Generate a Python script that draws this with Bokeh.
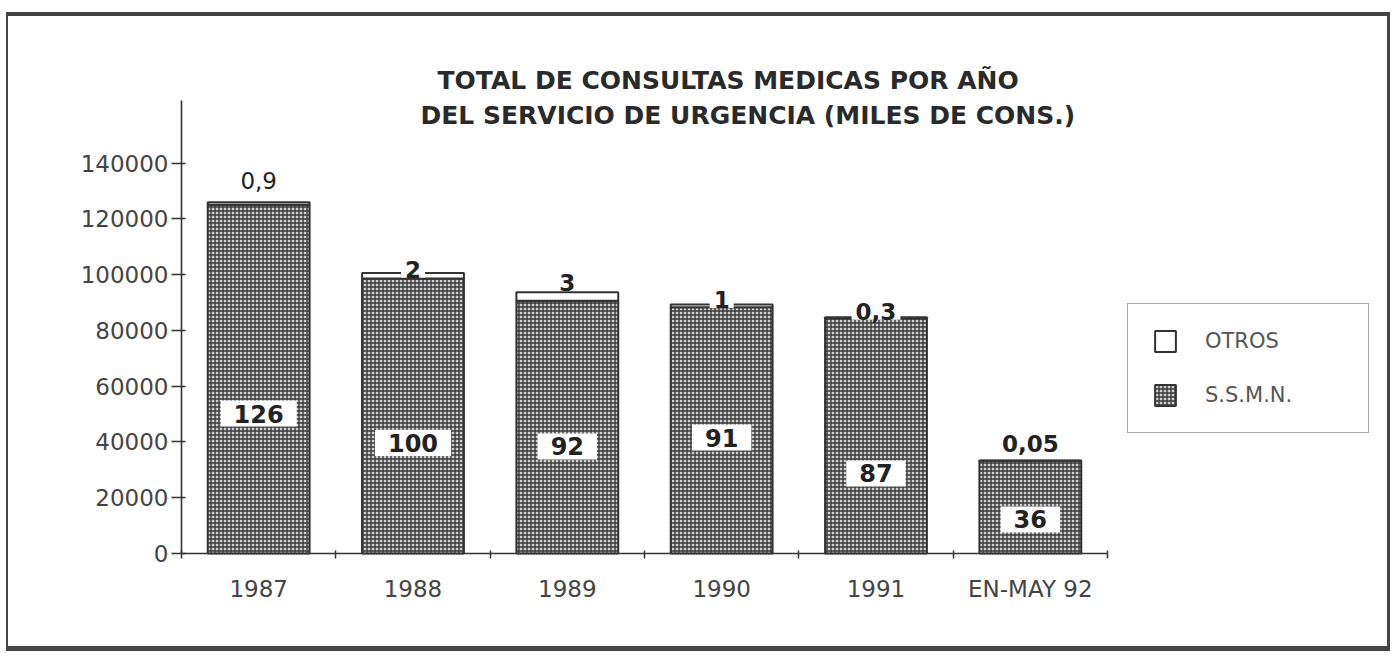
from bokeh.plotting import figure
from bokeh.models import (Range1d, FixedTicker, NumeralTickFormatter, Legend,
                          LegendItem, Label, ColumnDataSource)
from bokeh.embed import file_html
from bokeh.resources import INLINE
from bokeh.core.properties import value

# ---------------- data ----------------
categories = ["1987", "1988", "1989", "1990", "1991", "EN-MAY 92"]
ssmn = [125100, 98600, 90700, 88300, 84400, 33300]
otros = [900, 2000, 3000, 1000, 300, 50]
ssmn_labels = ["126", "100", "92", "91", "87", "36"]
otros_labels = ["0,9", "2", "3", "1", "0,3", "0,05"]
y_ticks = [0, 20000, 40000, 60000, 80000, 100000, 120000, 140000]
title_lines = ["TOTAL DE CONSULTAS MEDICAS POR AÑO",
               "DEL SERVICIO DE URGENCIA (MILES DE CONS.)"]
series_names = ["OTROS", "S.S.M.N."]

# ---------------- layout / style ----------------
ssmn_label_y = [50200, 39600, 38400, 41600, 28700, 12200]
otros_label_offset = [22, 4, 10, 5, 6, 17]
otros_label_style = ["normal", "bold", "bold", "bold", "bold", "bold"]
Y_AXIS_TOP = 162500

FONT = "DejaVu Sans"
INK = "#333333"
TXT = "#444444"

W, H = 1384, 639
MBL, MBB = 171, 100
PX_PER_CAT = 154.33      # px per category slot
PX_PER_UNIT = 0.0027879  # px per consultation
frame_w = W - MBL
frame_h = H - MBB
x0 = -2 / PX_PER_CAT
y0 = -2 / PX_PER_UNIT

n = len(categories)
xs = [i + 0.5 for i in range(n)]
totals = [a + b for a, b in zip(ssmn, otros)]

src = ColumnDataSource(dict(
    x=xs, ssmn=ssmn, total=totals, ssmn_lab=ssmn_labels, otros_lab=otros_labels,
    lab_y=ssmn_label_y, off=[-o for o in otros_label_offset],
    ostyle=otros_label_style,
))

p = figure(width=W, height=H, output_backend="svg", toolbar_location=None,
           title_location=None,
           x_range=Range1d(x0, x0 + frame_w / PX_PER_CAT),
           y_range=Range1d(y0, y0 + frame_h / PX_PER_UNIT),
           min_border_left=MBL, min_border_right=0,
           min_border_top=0, min_border_bottom=MBB)
p.outline_line_color = None
p.xgrid.grid_line_color = None
p.ygrid.grid_line_color = None
p.background_fill_color = "white"
p.border_fill_color = "white"
p.styles = {"border-style": "solid", "border-color": "#444444",
            "border-width": "4px 3px 5px 2px",
            "margin-left": "6px", "margin-top": "12px"}

# axis lines (span only the categories / tick range)
p.segment(x0=[0, 0], y0=[0, 0], x1=[n, 0], y1=[0, Y_AXIS_TOP],
          line_color=INK, line_width=1.6)

# bars
r_ssmn = p.vbar(x="x", top="ssmn", bottom=0, width=0.66, source=src,
                fill_color="#d0d0d0", hatch_pattern="cross", hatch_color="#3a3a3a",
                hatch_scale=4, hatch_weight=1.4,
                line_color=INK, line_width=2)
r_otros = p.vbar(x="x", bottom="ssmn", top="total", width=0.66, source=src,
                 fill_color="white", line_color=INK, line_width=2)

# value labels
p.text(x="x", y="lab_y", text="ssmn_lab", source=src, text_align="center",
       text_baseline="middle", text_font=value(FONT), text_font_style="bold",
       text_font_size="24px", text_color="#222222",
       background_fill_color="white", padding=(13, 4))
p.text(x="x", y="total", text="otros_lab", source=src, y_offset="off",
       text_align="center", text_baseline="middle", text_font=value(FONT),
       text_font_style="ostyle", text_font_size="23px", text_color="#222222",
       background_fill_color="white", padding=(4, 0))

# axes
xa = p.xaxis[0]
xa.ticker = FixedTicker(ticks=xs, minor_ticks=list(range(n + 1)))
xa.major_label_overrides = {x: c for x, c in zip(xs, categories)}
xa.major_tick_out = 0
xa.major_tick_in = 0
xa.minor_tick_out = 3
xa.minor_tick_in = 5
xa.minor_tick_line_color = INK
xa.minor_tick_line_width = 1.5
xa.axis_line_color = None
xa.major_label_standoff = 17

ya = p.yaxis[0]
ya.ticker = FixedTicker(ticks=y_ticks)
ya.formatter = NumeralTickFormatter(format="0")
ya.major_tick_out = 8
ya.major_tick_in = 6
ya.major_tick_line_color = INK
ya.major_tick_line_width = 1.5
ya.minor_tick_line_color = None
ya.axis_line_color = None
ya.major_label_standoff = 3

for ax in (xa, ya):
    ax.major_label_text_font = FONT
    ax.major_label_text_font_size = "23px"
    ax.major_label_text_color = TXT

# two-line title
for txt, sx, sy in zip(title_lines, [258, 241], [475, 440]):
    p.add_layout(Label(x=sx, y=sy, x_units="screen", y_units="screen", text=txt,
                       text_font=FONT, text_font_style="bold", text_font_size="25px",
                       text_color="#2a2a2a", text_align="left",
                       text_baseline="middle"))

# legend
legend = Legend(items=[LegendItem(label=series_names[0], renderers=[r_otros]),
                       LegendItem(label=series_names[1], renderers=[r_ssmn])],
                location=(948, 122), margin=0, padding=24, spacing=28,
                glyph_width=26, glyph_height=26, label_standoff=27,
                label_width=139,
                label_text_font=FONT, label_text_font_size="21px",
                label_text_color="#555555",
                border_line_color="#555555", border_line_width=1.5,
                background_fill_color="white")
p.add_layout(legend)

open("out.html", "w").write(file_html(p, INLINE))
